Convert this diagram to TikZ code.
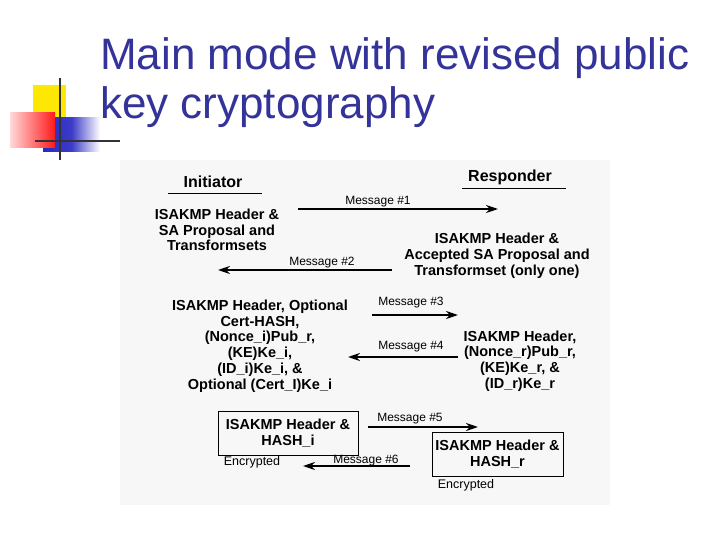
\documentclass[tikz,border=0pt]{standalone}
\usepackage{fontspec}
\setmainfont{Liberation Sans}
\usetikzlibrary{arrows.meta}
\begin{document}
\begin{tikzpicture}[x=1pt,y=-1pt,
  lbl/.style={font=\fontsize{14.5}{15.8}\selectfont\bfseries,align=center,inner sep=0pt},
  msg/.style={font=\fontsize{12}{14}\selectfont,inner sep=1pt,anchor=south},
  arr/.style={line width=1.8pt,-{Stealth[length=12pt,width=8pt]}},
  hdr/.style={font=\fontsize{16}{18}\selectfont\bfseries,inner sep=0pt},
  bx/.style={draw,line width=1pt,minimum width=140pt,minimum height=44pt,align=center,font=\fontsize{14.5}{16.5}\selectfont\bfseries}]
\useasboundingbox (0,0) rectangle (720,540);
\fill[white] (0,0) rectangle (720,540);
% logo
\fill[yellow!90!orange] (33,85) rectangle (66,118);
\shade[left color={rgb,255:red,40;green,40;blue,190}, right color=white, middle color={rgb,255:red,60;green,60;blue,200}] (43,118) rectangle (100,152);
\shade[left color=red!15, right color=red!90] (10,113) rectangle (55,148);
\draw[line width=1.5pt,black!80] (60,78) -- (60,160);
\draw[line width=1.5pt,black!80] (35,141) -- (120,141);
% title
\node[anchor=base west,inner sep=0pt,text={rgb,255:red,51;green,51;blue,153},font=\fontsize{44}{48}\selectfont] (t1) at (100,70) {Main mode with revised public};
\node[anchor=base west,inner sep=0pt,text={rgb,255:red,51;green,51;blue,153},font=\fontsize{44}{48}\selectfont] (t2) at (100,119) {key cryptography};
% background panel
\fill[black!3] (120,160) rectangle (610,505);
% headers
\node[hdr] (ini) at (213,182) {Initiator};
\draw[line width=1pt] (168,194) -- (262,194);
\node[hdr] (res) at (510,177) {Responder};
\draw[line width=1pt] (462,189) -- (566,189);
% message 1
\node[lbl] (l1) at (217,230) {ISAKMP Header \&\\SA Proposal and\\Transformsets};
\coordinate (a1s) at (298,209); \coordinate (a1e) at (498,209);
\draw[arr] (a1s) -- (a1e);
\node[msg] (m1) at (378,208) {Message \#1};
% message 2
\node[lbl] (r1) at (497,256) {ISAKMP Header \&\\Accepted SA Proposal and\\Transformset (only one)};
\coordinate (a2s) at (392,270); \coordinate (a2e) at (218,270);
\draw[arr] (a2s) -- (a2e);
\node[msg] (m2) at (322,269) {Message \#2};
% message 3/4
\node[lbl] (l2) at (260,346) {ISAKMP Header, Optional\\Cert-HASH,\\(Nonce\_i)Pub\_r,\\(KE)Ke\_i,\\(ID\_i)Ke\_i, \&\\Optional (Cert\_I)Ke\_i};
\coordinate (a3s) at (372,315); \coordinate (a3e) at (458,315);
\draw[arr] (a3s) -- (a3e);
\node[msg] (m3) at (411,309) {Message \#3};
\node[lbl] (r2) at (520,361) {ISAKMP Header,\\(Nonce\_r)Pub\_r,\\(KE)Ke\_r, \&\\(ID\_r)Ke\_r};
\coordinate (a4s) at (458,357); \coordinate (a4e) at (348,357);
\draw[arr] (a4s) -- (a4e);
\node[msg] (m4) at (411,353) {Message \#4};
% message 5/6
\node[bx] (b1) at (288,433) {ISAKMP Header \&\\HASH\_i};
\node[font=\fontsize{12.5}{14}\selectfont,inner sep=0pt] (e1) at (252,462) {Encrypted};
\coordinate (a5s) at (368,427); \coordinate (a5e) at (478,427);
\draw[arr] (a5s) -- (a5e);
\node[msg] (m5) at (410,425) {Message \#5};
\node[bx,minimum width=131pt] (b2) at (497.5,454) {ISAKMP Header \&\\HASH\_r};
\node[font=\fontsize{12.5}{14}\selectfont,inner sep=0pt] (e2) at (466,485) {Encrypted};
\coordinate (a6s) at (410,466); \coordinate (a6e) at (303,466);
\draw[arr] (a6s) -- (a6e);
\node[msg] (m6) at (366,467) {Message \#6};
\end{tikzpicture}
\end{document}
